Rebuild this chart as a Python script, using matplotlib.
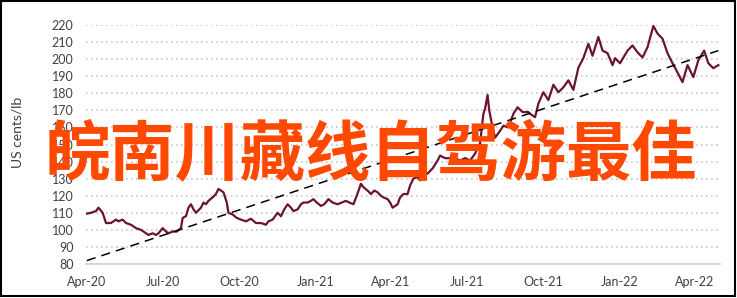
import pandas as pd
import numpy as np
import matplotlib.pyplot as plt
import matplotlib.dates as mdates
from matplotlib.patches import Rectangle

# price series, US cents/lb
dates = [
    '2020-04-01', '2020-04-06', '2020-04-12', '2020-04-15', '2020-04-20', '2020-04-24',
    '2020-04-30', '2020-05-06', '2020-05-09', '2020-05-14', '2020-05-18', '2020-05-24',
    '2020-05-30', '2020-06-05', '2020-06-11', '2020-06-14', '2020-06-19', '2020-06-23',
    '2020-06-26', '2020-07-01', '2020-07-05', '2020-07-08', '2020-07-13', '2020-07-18',
    '2020-07-23', '2020-07-25', '2020-07-29', '2020-08-01', '2020-08-04', '2020-08-07',
    '2020-08-10', '2020-08-16', '2020-08-19', '2020-08-22', '2020-08-25', '2020-08-30',
    '2020-09-03', '2020-09-06', '2020-09-09', '2020-09-12', '2020-09-16', '2020-09-18',
    '2020-09-23', '2020-09-28', '2020-10-03', '2020-10-09', '2020-10-15', '2020-10-21',
    '2020-10-27', '2020-11-02', '2020-11-05', '2020-11-10', '2020-11-16', '2020-11-20',
    '2020-11-24', '2020-11-28', '2020-12-02', '2020-12-05', '2020-12-10', '2020-12-14',
    '2020-12-17', '2020-12-22', '2020-12-26', '2020-12-29', '2021-01-02', '2021-01-07',
    '2021-01-11', '2021-01-16', '2021-01-21', '2021-01-27', '2021-02-01', '2021-02-06',
    '2021-02-10', '2021-02-15', '2021-02-19', '2021-02-24', '2021-02-27', '2021-03-04',
    '2021-03-08', '2021-03-12', '2021-03-16', '2021-03-20', '2021-03-23', '2021-03-28',
    '2021-03-31', '2021-04-03', '2021-04-06', '2021-04-09', '2021-04-12', '2021-04-16',
    '2021-04-21', '2021-04-24', '2021-04-28', '2021-05-03', '2021-05-06', '2021-05-11',
    '2021-05-15', '2021-05-21', '2021-05-27', '2021-05-30', '2021-06-05', '2021-06-11',
    '2021-06-17', '2021-06-23', '2021-06-29', '2021-07-05', '2021-07-11', '2021-07-17',
    '2021-07-21', '2021-07-23', '2021-07-26', '2021-07-28', '2021-08-01', '2021-08-04',
    '2021-08-10', '2021-08-14', '2021-08-20', '2021-08-26', '2021-08-31', '2021-09-06',
    '2021-09-13', '2021-09-15', '2021-09-21', '2021-09-25', '2021-10-01', '2021-10-07',
    '2021-10-13', '2021-10-19', '2021-10-25', '2021-10-31', '2021-11-06', '2021-11-12',
    '2021-11-18', '2021-11-24', '2021-11-29', '2021-12-06', '2021-12-11', '2021-12-17',
    '2021-12-23', '2021-12-26', '2022-01-01', '2022-01-10', '2022-01-16', '2022-01-22',
    '2022-01-28', '2022-02-03', '2022-02-10', '2022-02-15', '2022-02-21', '2022-02-27',
    '2022-03-05', '2022-03-08', '2022-03-17', '2022-03-23', '2022-03-30', '2022-04-05',
    '2022-04-12', '2022-04-17', '2022-04-23', '2022-04-29',
]
prices = [
    109.5, 110, 111, 113, 110, 104,
    104, 106, 105, 106, 104, 103,
    101, 100, 98, 97, 98, 97,
    98, 101, 99, 98, 99, 99,
    101, 107, 108, 113, 115, 112,
    110, 113, 116, 115, 117, 119,
    121, 124, 123, 122, 116, 110,
    109, 107, 106, 105, 106.5, 104,
    104, 103, 105, 106, 110, 108,
    112, 115, 113, 111, 112, 115,
    116, 116, 117, 118, 116, 114,
    115, 118, 116, 115, 116, 117,
    116, 115, 120, 127, 125, 123,
    121, 123, 122, 120, 119, 118,
    116, 113, 114, 115, 119, 121,
    121, 126, 130, 131, 129, 132,
    133, 136, 140.6, 143.5, 142, 142,
    142, 140.6, 142, 140.6, 144.7, 150.6,
    168, 171, 179, 170, 160, 154,
    158, 161, 160, 168, 171.8, 169,
    169, 168, 166, 174, 180.6, 176,
    185, 180.6, 183.5, 187.6, 182, 195,
    200.6, 209, 202, 213, 205, 203.5,
    196.5, 200.6, 197.6, 205, 208, 204,
    201, 207, 219.4, 215, 212, 203.5,
    197.6, 195, 186.5, 196.5, 189.5, 199.4,
    205, 197.6, 194.7, 196.5,
]

# dashed trend line end points
trend_dates = ['2020-04-01', '2022-04-29']
trend_values = [82, 205]

tick_dates = pd.date_range('2020-04-01', '2022-04-01', freq='3MS')
overlay_text = '皖南川藏线自驾游最佳'

fig = plt.figure(figsize=(7.37, 2.98), dpi=100)
ax = fig.add_axes([86 / 737, 1 - 264 / 298, (720 - 86) / 737, (264 - 25) / 298])

ax.plot(pd.to_datetime(dates), prices, color='#6b1430', lw=1.6, zorder=3)
ax.plot(pd.to_datetime(trend_dates), trend_values, color='black', lw=1.1,
        dashes=(6, 4), zorder=4)

ax.set_xlim(pd.Timestamp('2020-03-31'), pd.Timestamp('2022-05-01'))
ax.set_ylim(80, 220)
ax.set_yticks(np.arange(80, 221, 10))
ax.set_xticks(tick_dates)
ax.xaxis.set_major_formatter(mdates.DateFormatter('%b-%y'))

ax.grid(axis='y', color='#c8c8c8', linestyle=(0, (1, 2)), lw=1.2)
ax.grid(axis='x', visible=False)
for s in ['top', 'right', 'left']:
    ax.spines[s].set_visible(False)
ax.spines['bottom'].set_color('#d0d0d0')
ax.spines['bottom'].set_linewidth(1.2)
ax.tick_params(length=0, labelsize=9, labelcolor='#404040', pad=9)
for lab in ax.get_xticklabels() + ax.get_yticklabels():
    lab.set_fontfamily('Lato')

fig.text(18 / 737, 1 - 132 / 298, 'US cents/lb', rotation=90, ha='center', va='center',
         fontsize=10, color='#404040', family='Lato')

fig.text(371 / 737, 1 - 155 / 298, overlay_text, ha='center', va='center',
         fontsize=47, fontweight='bold', color='#ff4800',
         family=['Noto Sans CJK SC', 'DejaVu Sans'])

fig.patches.append(Rectangle((1 / 737, 2.5 / 298), 734 / 737, 294.5 / 298,
                             transform=fig.transFigure, fill=False,
                             edgecolor='black', lw=1.5))

fig.savefig('out.png', dpi=100)
